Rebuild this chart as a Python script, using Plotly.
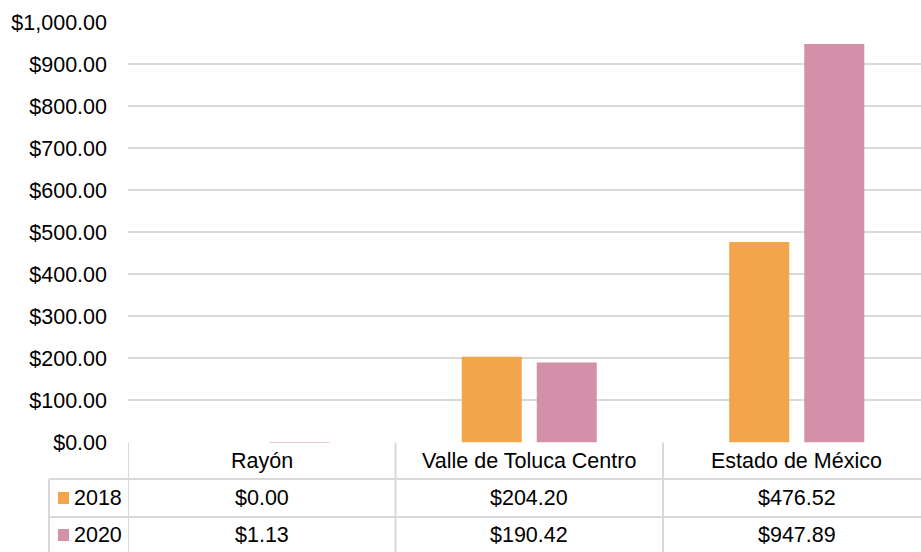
import plotly.graph_objects as go

# Data
categories = ["Rayón", "Valle de Toluca Centro", "Estado de México"]
series_names = ["2018", "2020"]
values_2018 = [0.00, 204.20, 476.52]
values_2020 = [1.13, 190.42, 947.89]
y_ticks = [0, 100, 200, 300, 400, 500, 600, 700, 800, 900, 1000]

colors = {"2018": "#F2A54A", "2020": "#D291A8"}
FONT = "Liberation Sans, Arial, sans-serif"
FS = 21.5
GRID = "#D9D9D9"

W, H = 921, 552


def py(px):
    """Convert a pixel row (from top) into paper coordinates."""
    return 1 - px / H


series = {"2018": values_2018, "2020": values_2020}

fig = go.Figure()
for name in series_names:
    fig.add_trace(go.Bar(
        x=categories, y=series[name], name=name,
        marker=dict(color=colors[name], line=dict(width=0)),
        showlegend=False,
    ))

# Plot area: left edge at 128px, y=0 at 442.5px, y=1000 at 22px
x_left = 128
cat_w = 267.5
x_span = (W - x_left) / cat_w

fig.update_layout(
    width=W, height=H,
    margin=dict(l=0, r=0, t=0, b=0),
    paper_bgcolor="white", plot_bgcolor="white",
    barmode="group", bargap=0.439, bargroupgap=0.2,
    font=dict(family=FONT, size=FS, color="#000000"),
    xaxis=dict(
        type="category", domain=[x_left / W, 1],
        range=[-0.5, -0.5 + x_span], automargin=False,
        showticklabels=False, showgrid=False, zeroline=False, showline=False,
    ),
    yaxis=dict(
        domain=[py(442.5), py(22)], range=[0, 1000], automargin=False,
        tickvals=y_ticks, ticktext=[f"${v:,.2f}" for v in y_ticks],
        showgrid=True, gridcolor=GRID, gridwidth=1.6,
        zeroline=False, showline=False, ticks="",
        ticklabelstandoff=20,
        tickfont=dict(family=FONT, size=FS, color="#000000"),
    ),
)

# Data table below the plot
line = dict(color=GRID, width=2)
row_lines = [479, 517]
table_bottom = 552
# horizontal rules
for r in row_lines:
    fig.add_shape(type="line", xref="paper", yref="paper",
                  x0=49 / W, x1=1, y0=py(r), y1=py(r), line=line)
# vertical rules at category boundaries
for i in range(len(categories) + 1):
    fig.add_shape(type="line", xref="x", yref="paper",
                  x0=i - 0.5, x1=i - 0.5, y0=py(442.5), y1=py(table_bottom),
                  line=line)
# left border of row-label column
fig.add_shape(type="line", xref="paper", yref="paper",
              x0=49 / W, x1=49 / W, y0=py(row_lines[0]), y1=py(table_bottom),
              line=line)

# header row
for i, c in enumerate(categories):
    fig.add_annotation(x=i, y=py(461), xref="x", yref="paper", text=c,
                       showarrow=False, font=dict(family=FONT, size=FS),
                       xanchor="center", yanchor="middle")

row_centers = [498, 535]
for name, yc in zip(series_names, row_centers):
    # legend key
    fig.add_shape(type="rect", xref="paper", yref="paper",
                  x0=58 / W, x1=69 / W, y0=py(yc + 6), y1=py(yc - 6),
                  fillcolor=colors[name], line=dict(width=0))
    fig.add_annotation(x=72 / W, y=py(yc), xref="paper", yref="paper",
                       text=name, showarrow=False,
                       font=dict(family=FONT, size=FS),
                       xanchor="left", yanchor="middle")
    for i, v in enumerate(series[name]):
        fig.add_annotation(x=i, y=py(yc), xref="x", yref="paper",
                           text=f"${v:,.2f}", showarrow=False,
                           font=dict(family=FONT, size=FS),
                           xanchor="center", yanchor="middle")

fig.write_html("out.html")
